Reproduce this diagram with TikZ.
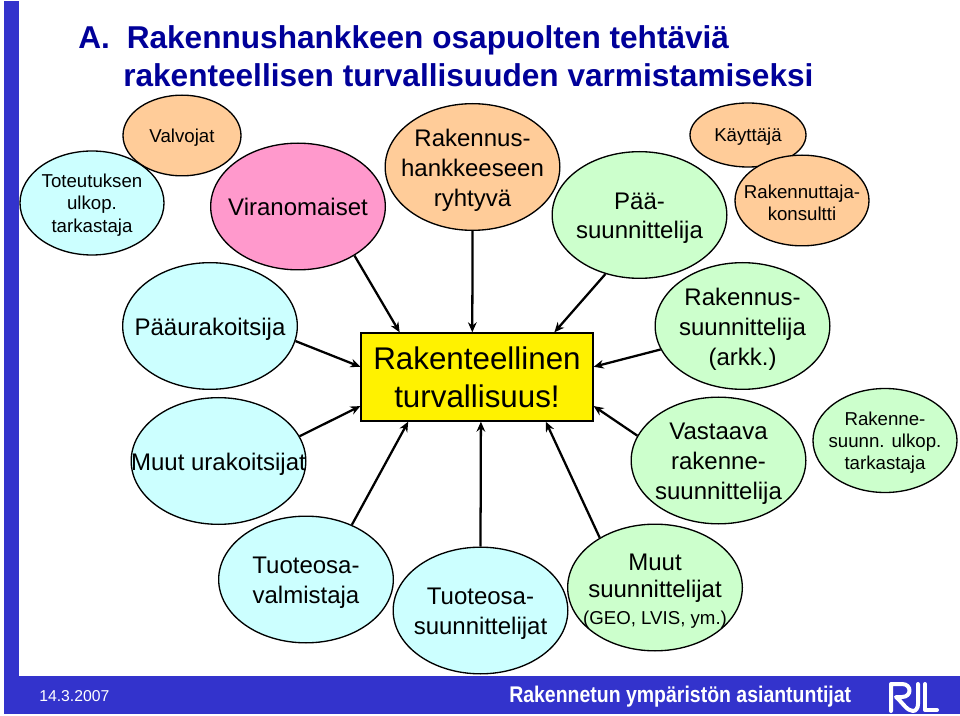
\documentclass[tikz,border=0pt]{standalone}
\usepackage{fontspec}
\setmainfont{Liberation Sans}
\usepackage{tikz}
\usetikzlibrary{shapes.geometric,arrows.meta}
\definecolor{barblue}{HTML}{3333CC}
\definecolor{titleblue}{HTML}{000099}
\definecolor{partycyan}{HTML}{CCFFFF}
\definecolor{partygreen}{HTML}{CCFFCC}
\definecolor{partypeach}{HTML}{FFCC99}
\definecolor{partypink}{HTML}{FF99CC}
\tikzstyle{party}=[ellipse, draw, line width=1pt, inner sep=0pt, minimum width=131pt, minimum height=95pt]
\tikzstyle{smallparty}=[party, minimum width=108pt, minimum height=78pt]
\tikzstyle{bigtext}=[align=center, inner sep=0pt, yshift=-2.5pt, font=\fontsize{18}{22.2}\selectfont]
\tikzstyle{smalltext}=[align=center, inner sep=0pt, yshift=-1.5pt, font=\fontsize{14}{16.7}\selectfont]
\tikzstyle{titletext}=[anchor=base west, inner sep=0pt, text=titleblue, font=\fontsize{23.7}{28}\selectfont\bfseries]
\tikzstyle{footertext}=[anchor=base west, inner sep=0pt, text=white]
\tikzstyle{influence}=[-{Stealth[length=7.5pt, width=6.5pt]}, line width=1.7pt]
\newcommand{\party}{\node[party]}
\newcommand{\smallparty}{\node[smallparty]}

\begin{document}
\begin{tikzpicture}[x=0.75pt, y=-0.75pt]
	\fill[white] (0,0) rectangle (960,716);
	%% Frame of the slide, a bar on the left and a band below.
	\fill[barblue] (4,1) rectangle (19,714);
	\fill[barblue] (4,676) rectangle (960,714);
	\node[titletext] (lettera) at (78,49) {A.};
	\node[titletext] (titlea) at (126.5,49) {Rakennushankkeen osapuolten tehtäviä};
	\node[titletext] (titleb) at (123,87) {rakenteellisen turvallisuuden varmistamiseksi};
	\node[footertext, font=\fontsize{11.8}{14}\selectfont] (date) at (39,701) {14.3.2007};
	\node[footertext, font=\fontsize{17}{19}\selectfont\bfseries] (slogan) at (509,702) {\scalebox{0.859}[1]{Rakennetun ympäristön asiantuntijat}};
	%% The logo is drawn by hand, it has no font.
	\draw[white, line width=3pt, line join=round, line cap=round] (891,711) -- (891,684) -- (902,684) .. controls (912,684) and (912,697) .. (902,697) -- (896,697) .. controls (903,703) and (907,711) .. (913,711) .. controls (916,711) and (918,708) .. (918,704) -- (918,684);
	\draw[white, line width=3pt, line join=round, line cap=round] (925,684) -- (925,710) -- (937,710);

	%% Ellipses of the upper row, left to right.
	\smallparty (val) at (182,135.5) [fill=partypeach, minimum width=88.5pt, minimum height=60.5pt, label={[smalltext]center:Valvojat}] {};
	\smallparty (tot) at (92,203) [fill=partycyan, label={[smalltext]center:Toteutuksen\\ulkop.\\tarkastaja}] {};
	\party (vir) at (298,206.5) [fill=partypink, label={[bigtext, yshift=2.5pt]center:Viranomaiset}] {};
	\party (rak) at (472.5,167) [fill=partypeach, label={[bigtext]center:Rakennus-\\hankkeeseen\\ryhtyvä}] {};
	\party (paa) at (639.5,215) [fill=partygreen, label={[bigtext]center:Pää-\\suunnittelija}] {};
	\smallparty (kay) at (748,135) [fill=partypeach, minimum width=87pt, minimum height=48pt, label={[smalltext]center:Käyttäjä}] {};
	\smallparty (kon) at (802,200.5) [fill=partypeach, minimum width=100.5pt, minimum height=68pt, label={[smalltext]center:Rakennuttaja-\\konsultti}] {};
	%% Ellipses on the sides.
	\party (pur) at (210,326) [fill=partycyan, label={[bigtext]center:Pääurakoitsija}] {};
	\party (mur) at (218.5,461) [fill=partycyan, label={[bigtext]center:Muut urakoitsijat}] {};
	\party (rsu) at (742.5,326) [fill=partygreen, label={[bigtext]center:Rakennus-\\suunnittelija\\(arkk.)}] {};
	\party (vas) at (718.5,460.5) [fill=partygreen, label={[bigtext]center:Vastaava\\rakenne-\\suunnittelija}] {};
	\smallparty (rao) at (885,440.5) [fill=partygreen, label={[smalltext]center:Rakenne-\\suunn. ulkop.\\tarkastaja}] {};
	%% Ellipses of the lower row.
	\party (tvm) at (306,579.5) [fill=partycyan, label={[bigtext]center:Tuoteosa-\\valmistaja}] {};
	\party (tsu) at (480.5,610.5) [fill=partycyan, label={[bigtext]center:Tuoteosa-\\suunnittelijat}] {};
	\party (mus) at (655,587.5) [fill=partygreen, label={[bigtext]center:Muut\\[-2pt]suunnittelijat\\[-2pt]{\fontsize{14}{16}\selectfont (GEO, LVIS, ym.)}}] {};
	%% The middle of the picture.
	\node[rectangle, draw, line width=1pt, fill=yellow, minimum width=174pt, minimum height=66pt, inner sep=0pt, align=center, font=\fontsize{23.5}{28.5}\selectfont] (box) at (477,377) {\raisebox{-2pt}{Rakenteellinen}\\\raisebox{-2pt}{turvallisuus!}};

	\path[influence]
		(vir.-41) edge (box.150)
		(rak.-90) edge (box.96)
		(paa.-120) edge (box.30)
		(pur.-10) edge (box.175)
		(mur.17) edge (box.-166)
		(tvm.50) edge (box.-147)
		(tsu.90) edge (box.-85)
		(mus.138) edge (box.-33)
		(rsu.-164) edge (box.5)
		(vas.163) edge (box.-14)
	;
\end{tikzpicture}
\end{document}
